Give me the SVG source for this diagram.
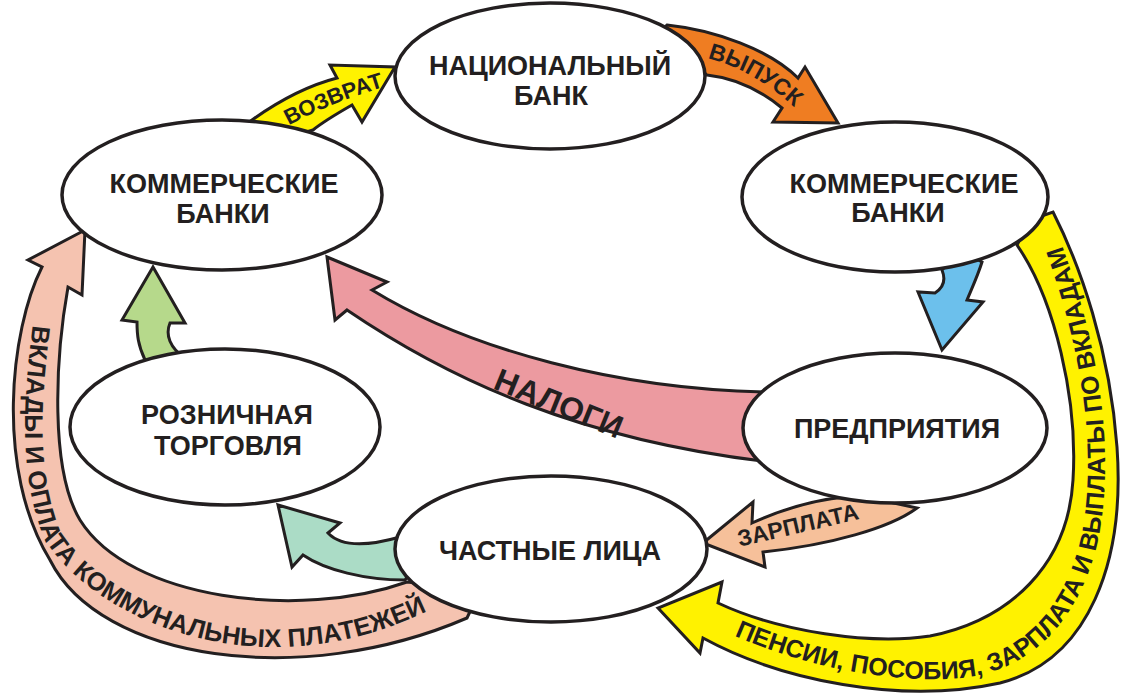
<svg xmlns="http://www.w3.org/2000/svg" width="1135" height="698" viewBox="0 0 1135 698">
<style>
.arrow{stroke:#231f20;stroke-width:3;stroke-linejoin:miter;stroke-miterlimit:10}
.node{fill:#ffffff;stroke:#231f20;stroke-width:3.5}
.lbl{font-family:"Liberation Sans",Arial,sans-serif;font-weight:bold;fill:#231f20}
.nl{font-size:27px;text-anchor:middle}
</style>
<defs>
<path id="tpVozvrat" d="M 280 130 Q 330 102 394 84"/>
<path id="tpVypusk" d="M 683 53 Q 752 63 804 117"/>
<path id="tpVklady" d="M 36 300 C 25 380, 15 470, 45 540 C 90 610, 200 655, 300 646 C 350 642, 395 628, 440 605"/>
<path id="tpPensii" d="M 712 625 C 780 660, 880 685, 960 678 C 1030 672, 1080 620, 1098 540 C 1112 470, 1108 370, 1060 240"/>
</defs>
<rect width="1135" height="698" fill="#ffffff"/>
<g id="connectors">
  <path class="arrow" fill="#f5c3b0" d="M 85 230 L 28 260 L 42 267 C 10 330, -5 470, 50 560 C 100 660, 300 690, 467 618 L 480 590 L 407 582 C 300 620, 130 600, 80 520 C 50 470, 55 360, 68 287 L 82 295 Z"/>
  <path class="arrow" fill="#fff200" d="M 658 608 L 700 653 L 703 638 C 780 680, 900 705, 1000 683 C 1090 660, 1125 560, 1117 447 C 1110 350, 1080 265, 1053 212 L 1030 220 L 1017 245 C 1055 300, 1078 400, 1073 480 C 1068 565, 1010 620, 930 636 C 870 645, 780 632, 718 603 L 722 582 Z"/>
  <path class="arrow" fill="#abdcc6" d="M 278 505 L 340 523 L 328 533 C 342 548, 372 545, 400 537 L 420 560 L 405 580 C 365 580, 325 570, 303 555 L 292 567 Z"/>
  <path class="arrow" fill="#b6d98b" d="M 153 267 L 185 323 L 170 323 C 165 335, 170 348, 185 358 L 160 372 L 145 360 C 138 345, 137 335, 137 322 L 122 320 Z"/>
  <path class="arrow" fill="#ec9aa0" d="M 327 257 L 387 282 L 372 290 C 470 350, 620 390, 770 392 L 790 430 L 770 462 C 580 440, 450 380, 347 310 L 335 320 Z"/>
  <path class="arrow" fill="#f6c09a" d="M 703 543 L 753 502 L 752 523 C 785 508, 815 500, 845 497 L 880 500 L 917 508 C 890 528, 830 545, 763 552 L 765 567 Z"/>
  <path class="arrow" fill="#6cc0ec" d="M 942 270 C 946 280, 943 288, 935 293 L 918 292 L 942 350 L 983 302 L 967 300 C 972 288, 978 275, 982 262 L 960 250 Z"/>
  <path class="arrow" fill="#ef7d22" d="M 660 32 L 667 25 C 715 30, 770 50, 798 78 L 805 67 L 838 123 L 773 122 L 782 108 C 760 90, 735 78, 707 75 L 690 60 Z"/>
  <path class="arrow" fill="#fff200" d="M 252 120 C 280 100, 310 85, 337 78 L 330 65 L 395 67 L 362 122 L 352 105 C 338 113, 324 121, 313 130 L 280 140 Z"/>
  <text class="lbl" font-size="22"><textPath href="#tpVozvrat" startOffset="50%" text-anchor="middle">ВОЗВРАТ</textPath></text>
  <text class="lbl" font-size="23"><textPath href="#tpVypusk" startOffset="54%" text-anchor="middle">ВЫПУСК</textPath></text>
  <text class="lbl" font-size="25.5"><textPath href="#tpVklady" startOffset="278" text-anchor="end">ВКЛАДЫ И ОПЛАТА</textPath></text>
  <text class="lbl" font-size="25.5"><textPath href="#tpVklady" startOffset="285">КОММУНАЛЬНЫХ ПЛАТЕЖЕЙ</textPath></text>
  <text class="lbl" font-size="25"><textPath href="#tpPensii" startOffset="422" text-anchor="end">ПЕНСИИ, ПОСОБИЯ, ЗАРПЛАТА</textPath></text>
  <text class="lbl" font-size="25"><textPath href="#tpPensii" startOffset="429">И ВЫПЛАТЫ ПО ВКЛАДАМ</textPath></text>
  <text class="lbl" font-size="32" text-anchor="middle" transform="translate(559,403) rotate(22)" x="0" y="11.5">НАЛОГИ</text>
  <text class="lbl" font-size="23" text-anchor="middle" transform="translate(798,525) rotate(-13)" x="0" y="8">ЗАРПЛАТА</text>
</g>
<g id="node-national">
  <ellipse class="node" cx="550" cy="76" rx="155" ry="73"/>
  <text class="lbl nl" x="550" y="75">НАЦИОНАЛЬНЫЙ</text>
  <text class="lbl nl" x="551" y="105">БАНК</text>
</g>
<g id="node-banks-left">
  <ellipse class="node" cx="222" cy="195" rx="160" ry="75"/>
  <text class="lbl nl" x="224" y="193">КОММЕРЧЕСКИЕ</text>
  <text class="lbl nl" x="223" y="223">БАНКИ</text>
</g>
<g id="node-banks-right">
  <ellipse class="node" cx="895" cy="197" rx="153" ry="75"/>
  <text class="lbl nl" x="904" y="193">КОММЕРЧЕСКИЕ</text>
  <text class="lbl nl" x="898" y="222">БАНКИ</text>
</g>
<g id="node-enterprises">
  <ellipse class="node" cx="895" cy="428" rx="152" ry="75"/>
  <text class="lbl nl" x="897" y="438">ПРЕДПРИЯТИЯ</text>
</g>
<g id="node-retail">
  <ellipse class="node" cx="225" cy="427" rx="155" ry="78"/>
  <text class="lbl nl" x="227" y="424">РОЗНИЧНАЯ</text>
  <text class="lbl nl" x="228" y="455">ТОРГОВЛЯ</text>
</g>
<g id="node-persons">
  <ellipse class="node" cx="551" cy="549" rx="156" ry="73"/>
  <text class="lbl nl" x="550" y="560">ЧАСТНЫЕ ЛИЦА</text>
</g>
</svg>
